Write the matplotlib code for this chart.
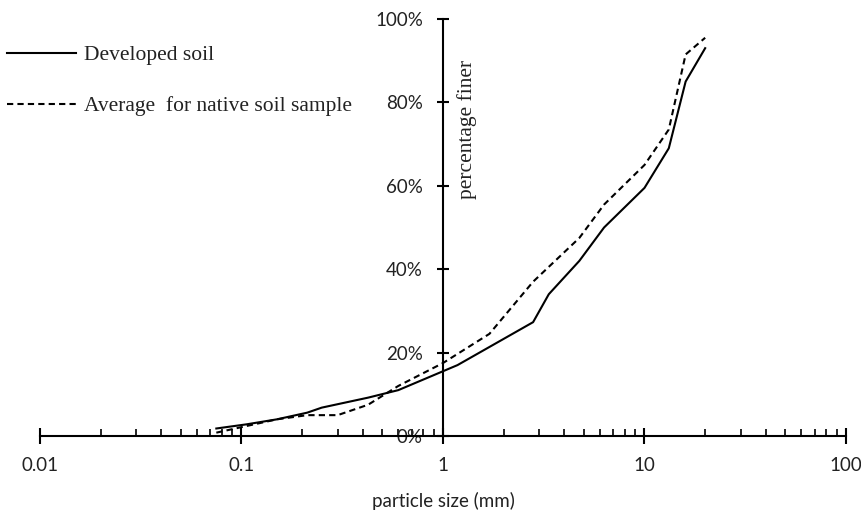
import matplotlib
matplotlib.use("Agg")
import matplotlib.pyplot as plt
from matplotlib.ticker import LogLocator, FixedLocator, NullFormatter

# Data
dev_x = [0.075, 0.106, 0.15, 0.212, 0.25, 0.425, 0.6, 1.18, 2.8, 3.35, 4.75, 6.3, 10, 13.2, 16, 20]
dev_y = [1.8, 2.8, 4.0, 5.6, 6.8, 9.2, 11.0, 17.0, 27.3, 34.0, 42.0, 50.0, 59.5, 69.0, 85.0, 93.0]
nat_x = [0.075, 0.106, 0.15, 0.212, 0.3, 0.425, 0.6, 1.0, 1.7, 2.8, 4.75, 6.3, 10, 13.2, 16, 20]
nat_y = [0.8, 2.4, 4.0, 5.0, 5.0, 7.5, 12.0, 17.5, 24.5, 37.0, 47.5, 55.5, 65.0, 73.5, 91.5, 95.5]
x_ticks = [0.01, 0.1, 1, 10, 100]
x_tick_labels = ["0.01", "0.1", "1", "10", "100"]
y_ticks = [0, 20, 40, 60, 80, 100]
y_tick_labels = ["0%", "20%", "40%", "60%", "80%", "100%"]
series_labels = ["Developed soil", "Average  for native soil sample"]

W, H = 862, 511
fig = plt.figure(figsize=(W / 100, H / 100), dpi=100)
ax = fig.add_axes([40 / W, 75 / H, (846 - 40) / W, (436 - 19) / H])

serif = "Liberation Serif"
sans = "Lato"

l1, = ax.plot(dev_x, dev_y, color="black", lw=1.5, solid_joinstyle="round")
l2, = ax.plot(nat_x, nat_y, color="black", lw=1.5, linestyle=(0, (3, 2)))

ax.set_xscale("log")
ax.set_xlim(0.01, 100)
ax.set_ylim(0, 100)

ax.spines["top"].set_visible(False)
ax.spines["right"].set_visible(False)
ax.spines["left"].set_position(("data", 1))
ax.spines["left"].set_linewidth(1.5)
ax.spines["bottom"].set_linewidth(1.5)

ax.xaxis.set_major_locator(FixedLocator(x_ticks))
ax.set_xticklabels(x_tick_labels, fontfamily=sans, fontsize=13.5, color="#222222")
ax.xaxis.set_minor_locator(LogLocator(base=10, subs=range(2, 10), numticks=20))
ax.xaxis.set_minor_formatter(NullFormatter())
ax.tick_params(axis="x", which="major", direction="inout", length=12, width=1.5, pad=9)
ax.tick_params(axis="x", which="minor", direction="in", length=5, width=1.2)

ax.set_yticks(y_ticks)
ax.set_yticklabels(y_tick_labels, fontfamily=sans, fontsize=13.5, color="#222222")
ax.tick_params(axis="y", which="major", direction="inout", length=9, width=1.5, pad=10)

ax.set_xlabel("particle size (mm)", fontfamily=sans, fontsize=13.5, labelpad=13, color="#222222")
fig.text(467 / W, 1 - 60 / H, "percentage finer", rotation=90, ha="center", va="top",
         fontfamily=serif, fontsize=15.5, color="#222222")

leg = ax.legend([l1, l2], series_labels, loc="upper left",
                bbox_to_anchor=(7 / W, 1 - 45 / H), bbox_transform=fig.transFigure,
                frameon=False, prop={"family": serif, "size": 15.5},
                handlelength=3.2, handletextpad=0.37, labelspacing=1.45, borderpad=0,
                borderaxespad=0)
for t in leg.get_texts():
    t.set_color("#222222")

fig.savefig("out.png", dpi=100)
